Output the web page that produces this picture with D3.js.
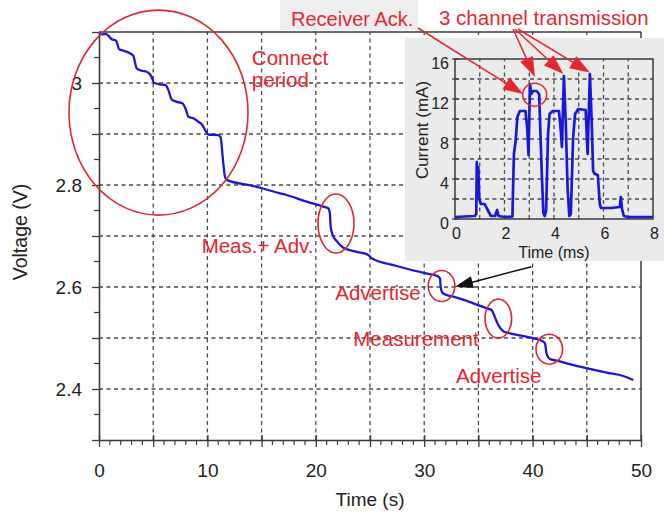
<!DOCTYPE html>
<html><head><meta charset="utf-8">
<script src="https://cdn.jsdelivr.net/npm/d3@7"></script>
<style>
body{margin:0;background:#fff;}
svg{display:block;font-family:"Liberation Sans",Arial,sans-serif;}
</style>
</head><body>
<svg id="c" width="664" height="515"></svg>
<script>
// ---------- data ----------
const voltTime = [0.09,0.65,0.95,1.17,1.57,1.87,2.31,2.8,3.17,3.47,3.93,4.4,4.86,5.07,5.63,6.15,6.4,6.7,7.17,7.72,8.03,8.24,8.7,9.16,9.53,9.87,10.08,11.0,11.22,11.41,11.62,11.78,14.24,16.7,17.3,19.16,20.7,21.15,21.3,21.37,21.56,21.93,22.54,23.77,24.85,25.16,27.46,30.38,31.15,31.46,31.52,31.67,32.07,32.69,34.53,35.77,36.22,36.44,36.84,37.36,37.92,40.07,40.84,41.14,41.3,41.6,42.22,44.37,46.83,48.37,49.29];
const voltValue = [3.0955,3.096,3.091,3.0857,3.083,3.066,3.063,3.059,3.053,3.029,3.024,3.022,3.012,3.0006,2.9975,2.996,2.986,2.968,2.963,2.960,2.947,2.934,2.931,2.924,2.9176,2.9045,2.899,2.898,2.8935,2.855,2.8163,2.810,2.798,2.7837,2.7804,2.7673,2.7575,2.7543,2.7445,2.718,2.702,2.690,2.677,2.669,2.6627,2.6563,2.6412,2.6255,2.622,2.617,2.6006,2.589,2.5843,2.581,2.568,2.5582,2.555,2.545,2.5255,2.5124,2.5092,2.4994,2.4947,2.4896,2.4686,2.4588,2.4555,2.4437,2.432,2.4255,2.4176];

const currTime = [0,0.4,0.8,0.86,0.88,0.91,0.94,0.98,1.05,1.2,1.3,1.45,1.62,1.7,1.76,2.0,2.32,2.38,2.45,2.52,2.62,2.85,2.92,2.97,3.03,3.08,3.15,3.3,3.4,3.5,3.57,3.62,3.68,3.76,3.82,3.95,4.2,4.27,4.32,4.4,4.47,4.55,4.62,4.68,4.77,4.85,4.98,5.28,5.33,5.36,5.45,5.52,5.58,5.65,5.77,5.85,5.9,6.3,6.66,6.7,6.75,6.82,7.0,7.5,8.0];
const currValue = [0.2,0.25,0.3,0.5,5.7,3.0,5.2,2.0,1.5,1.5,1.0,0.3,0.3,0.9,0.3,0.2,0.25,6.5,7.8,10.2,10.8,10.8,9,6.4,13.5,12.5,12.8,12.8,12.5,5,0.6,0.3,0.8,8.5,10.5,10.8,10.8,9,7.2,14.3,10,3,0.3,0.5,8,10.5,11,10.9,8,6.5,14.5,10,4.8,4.5,4.4,1.5,1.1,1.1,1.2,2.2,1.0,0.3,0.2,0.2,0.2];

const mainXTickLabels = [0,10,20,30,40,50];
const mainYTickLabels = [2.4,2.6,2.8,3.0];
const insetXTickLabels = [0,2,4,6,8];
const insetYTickLabels = [0,4,8,12,16];

// annotations (data coordinates)
const ellipseT = [5.49,21.86,31.6,36.84,41.54];
const ellipseV = [2.942,2.7245,2.602,2.538,2.478];
const noteText = ["Connect","period","Meas.+ Adv.","Advertise","Measurement","Advertise"];
const noteT = [14.1,14.1,9.47,21.8,23.46,32.93];
const noteV = [3.035,2.992,2.667,2.5745,2.485,2.411];
const tipMs = [2.75,3.23,4.38,5.45];
const tipMA = [12.5,14.2,14.5,14.65];

// ---------- drawing ----------
const svg = d3.select("#c");
const RED = "#e4262e", BLUE = "#1818d6", GRID = "#4a4a4a", AX = "#3a3a3a";

const x = d3.scaleLinear().domain([0,50]).range([99,641]);
const y = d3.scaleLinear().domain([2.3,3.1]).range([440,32]);

// grid
const g = svg.append("g");
g.selectAll("line.gx").data(d3.range(5,50,5)).join("line")
  .attr("x1",d=>x(d)).attr("x2",d=>x(d)).attr("y1",y(2.3)).attr("y2",y(3.1))
  .attr("stroke",GRID).attr("stroke-width",1.3).attr("stroke-dasharray","4,3.5");
g.selectAll("line.gy").data(d3.range(24,31).map(i=>i/10)).join("line")
  .attr("x1",x(0)).attr("x2",x(50)).attr("y1",d=>y(d)).attr("y2",d=>y(d))
  .attr("stroke",GRID).attr("stroke-width",1.3).attr("stroke-dasharray","4,3.5");

// frame top/right
svg.append("line").attr("x1",x(0)).attr("x2",x(50)).attr("y1",y(3.1)).attr("y2",y(3.1)).attr("stroke",AX).attr("stroke-width",1.5);
svg.append("line").attr("x1",x(50)).attr("x2",x(50)).attr("y1",y(3.1)).attr("y2",y(2.3)).attr("stroke",AX).attr("stroke-width",1.5);

// bottom axis
const xAxis = d3.axisBottom(x).tickValues(d3.range(0,51,5)).tickSize(7).tickSizeOuter(0).tickPadding(16.5)
  .tickFormat(d=>mainXTickLabels.includes(d)?d:"");
const gx = svg.append("g").attr("transform",`translate(0,${y(2.3)})`).call(xAxis);
gx.selectAll(".tick line").attr("y1",-5);
svg.append("g").selectAll("line").data(d3.range(0,51,1).filter(d=>d%5)).join("line")
  .attr("x1",d=>x(d)).attr("x2",d=>x(d)).attr("y1",y(2.3)).attr("y2",y(2.3)+5)
  .attr("stroke",AX).attr("stroke-width",1.2);

// left axis
const yAxis = d3.axisLeft(y).tickValues(d3.range(23,32).map(i=>i/10)).tickSize(7).tickSizeOuter(0).tickPadding(10)
  .tickFormat(d=>mainYTickLabels.some(v=>Math.abs(v-d)<1e-9)?d3.format("~g")(d):"");
const gy = svg.append("g").attr("transform",`translate(${x(0)},0)`).call(yAxis);
svg.append("g").selectAll("line").data(d3.range(0,8).map(i=>2.35+i*0.1)).join("line")
  .attr("x1",x(0)-5).attr("x2",x(0)).attr("y1",d=>y(d)).attr("y2",d=>y(d))
  .attr("stroke",AX).attr("stroke-width",1.2);

[gx,gy].forEach(a=>{
  a.select(".domain").attr("stroke",AX).attr("stroke-width",1.6);
  a.selectAll(".tick line").attr("stroke",AX).attr("stroke-width",1.3);
  a.selectAll("text").attr("font-size",19).attr("fill","#222").attr("font-family","Liberation Sans, Arial, sans-serif");
});

// axis titles
svg.append("text").attr("x",(x(0)+x(50))/2).attr("y",506).attr("text-anchor","middle")
  .attr("font-size",19).attr("fill","#222").text("Time (s)");
svg.append("text").attr("transform",`translate(27,${(y(2.3)+y(3.1))/2-4}) rotate(-90)`).attr("text-anchor","middle")
  .attr("font-size",19.5).attr("fill","#222").text("Voltage (V)");

// voltage line
const line = d3.line().x((d,i)=>x(voltTime[i])).y((d,i)=>y(voltValue[i])).curve(d3.curveMonotoneX);
svg.append("path").datum(voltValue).attr("d",line).attr("fill","none").attr("stroke",BLUE).attr("stroke-width",2.3);

// ellipses
const erx = [89.5,18,13.3,13.3,13.3], ery = [102.5,29.5,15.5,19.5,15];
svg.append("g").selectAll("ellipse").data(ellipseT).join("ellipse")
  .attr("cx",(d,i)=>x(ellipseT[i])).attr("cy",(d,i)=>y(ellipseV[i]))
  .attr("rx",(d,i)=>erx[i]).attr("ry",(d,i)=>ery[i])
  .attr("fill","none").attr("stroke",RED).attr("stroke-width",1.6);

// notes
svg.append("g").selectAll("text").data(noteText).join("text")
  .attr("x",(d,i)=>x(noteT[i])).attr("y",(d,i)=>y(noteV[i]))
  .attr("font-size",20.5).attr("fill",RED).text(d=>d);

// arrow helper
function arrow(par,x1,y1,x2,y2,color,len,hw,sw){
  const dx=x2-x1, dy=y2-y1, L=Math.hypot(dx,dy), ux=dx/L, uy=dy/L;
  const bx=x2-ux*len, by=y2-uy*len;
  par.append("line").attr("x1",x1).attr("y1",y1).attr("x2",bx+ux*2).attr("y2",by+uy*2)
    .attr("stroke",color).attr("stroke-width",sw);
  par.append("path").attr("d",`M${x2},${y2}L${bx-uy*hw},${by+ux*hw}L${bx+uy*hw},${by-ux*hw}Z`).attr("fill",color);
}

// ---------- inset ----------
const xi = d3.scaleLinear().domain([0,8]).range([455,653]);
const yi = d3.scaleLinear().domain([0,16]).range([219,59]);
const ins = svg.append("g");
ins.append("rect").attr("x",405).attr("y",38).attr("width",259).attr("height",223).attr("fill","#ebebeb");
ins.selectAll("line.ix").data(d3.range(1,8)).join("line")
  .attr("x1",d=>xi(d)).attr("x2",d=>xi(d)).attr("y1",yi(0)).attr("y2",yi(16))
  .attr("stroke",GRID).attr("stroke-width",1.3).attr("stroke-dasharray","4,3.5");
ins.selectAll("line.iy").data(d3.range(2,16,2)).join("line")
  .attr("x1",xi(0)).attr("x2",xi(8)).attr("y1",d=>yi(d)).attr("y2",d=>yi(d))
  .attr("stroke",GRID).attr("stroke-width",1.3).attr("stroke-dasharray","4,3.5");
ins.append("rect").attr("x",xi(0)).attr("y",yi(16)).attr("width",xi(8)-xi(0)).attr("height",yi(0)-yi(16))
  .attr("fill","none").attr("stroke",AX).attr("stroke-width",1.5);
// inset y ticks
ins.selectAll("line.iyt").data(d3.range(0,17,2)).join("line")
  .attr("x1",xi(0)-3).attr("x2",xi(0)+4).attr("y1",d=>yi(d)).attr("y2",d=>yi(d))
  .attr("stroke",AX).attr("stroke-width",1.2);
ins.selectAll("text.iyl").data(insetYTickLabels).join("text")
  .attr("x",xi(0)-6).attr("y",d=>yi(d)+(d===0?10:9.5)).attr("text-anchor","end")
  .attr("font-size",16).attr("fill","#222").text(d=>d);
ins.selectAll("text.ixl").data(insetXTickLabels).join("text")
  .attr("x",d=>xi(d)+1.5).attr("y",yi(0)+20).attr("text-anchor","middle")
  .attr("font-size",16).attr("fill","#222").text(d=>d);
ins.append("text").attr("x",(xi(0)+xi(8))/2).attr("y",258).attr("text-anchor","middle")
  .attr("font-size",16).attr("fill","#222").text("Time (ms)");
ins.append("text").attr("transform",`translate(428,130) rotate(-90)`).attr("text-anchor","middle")
  .attr("font-size",17).attr("fill","#222").text("Current (mA)");
const iline = d3.line().x((d,i)=>xi(currTime[i])).y((d,i)=>yi(currValue[i]));
ins.append("path").datum(currValue).attr("d",iline).attr("fill","none").attr("stroke",BLUE)
  .attr("stroke-width",2.7).attr("stroke-linejoin","round");
ins.append("ellipse").attr("cx",xi(3.22)).attr("cy",yi(12.43)).attr("rx",12).attr("ry",11.5)
  .attr("fill","none").attr("stroke",RED).attr("stroke-width",1.5);

// titles at top
svg.append("rect").attr("x",280).attr("y",0).attr("width",138).attr("height",30).attr("fill","#eeeeee");
svg.append("text").attr("x",291).attr("y",26).attr("font-size",20).attr("fill",RED).text("Receiver Ack.");
svg.append("text").attr("x",439).attr("y",25).attr("font-size",20.5).attr("fill",RED).text("3 channel transmission");

// red arrows
const ar = svg.append("g");
arrow(ar,418,28,xi(tipMs[0]),yi(tipMA[0]),RED,20,7,1.5);
arrow(ar,513,29,xi(tipMs[1]),yi(tipMA[1]),RED,20,7,1.5);
arrow(ar,515,29,xi(tipMs[2]),yi(tipMA[2]),RED,20,7,1.5);
arrow(ar,518,29,xi(tipMs[3]),yi(tipMA[3]),RED,20,7,1.5);

// black arrow from inset to the advertise event
arrow(svg.append("g"),x(39.9),y(2.6398),x(32.84),y(2.6006),"#111",18,6,1.5);
</script>
</body></html>
